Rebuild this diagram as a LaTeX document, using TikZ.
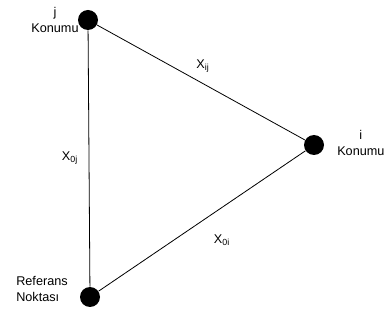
\documentclass[tikz,border=0pt]{standalone}
\usepackage{fontspec}
\setmainfont{Liberation Sans}
\usetikzlibrary{positioning}

\tikzset{
  konum/.style={circle,fill=black,inner sep=0pt,minimum size=15pt},
  etiket/.style={font=\fontsize{9.5}{12}\selectfont,inner sep=0pt,align=center},
  kenar/.style={draw=black,line width=0.6pt}
}

\begin{document}
\begin{tikzpicture}[x=0.75pt,y=-0.75pt]
\useasboundingbox (0,0) rectangle (386,324);
% konumlar
\node[konum] (j) at (88,20) {};
\node[konum] (i) at (314,145) {};
\node[konum] (ref) at (90,297) {};
% kenarlar
\draw[kenar] (j) -- (i);
\draw[kenar] (j) -- (ref);
\draw[kenar] (ref) -- (i);
% yazilar
\node[etiket] (jlbl) at (55,20) {j\\Konumu};
\node[etiket,anchor=west] (ilbl) at (337,143) {i\\Konumu};
\node[etiket,align=left] (reflbl) at (42,289) {Referans\\Noktası};
\node[etiket] (xij) at (203,66) {X\textsubscript{ij}};
\node[etiket] (x0j) at (70,158) {X\textsubscript{0j}};
\node[etiket] (x0i) at (222,240) {X\textsubscript{0i}};
\end{tikzpicture}
\end{document}
